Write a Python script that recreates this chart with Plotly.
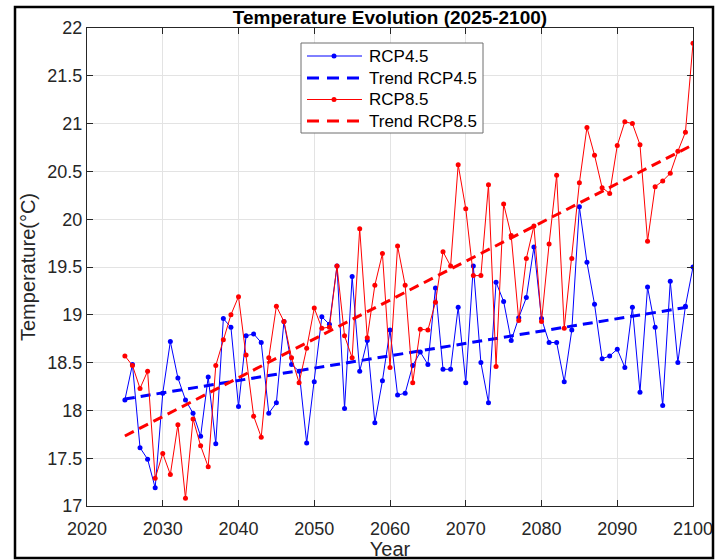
import numpy as np
import plotly.graph_objects as go

# Annual mean temperature (°C) under two emission scenarios
years = list(range(2025, 2101))

rcp45 = [
    18.11, 18.48, 17.61, 17.49, 17.19, 18.18, 18.72, 18.34, 18.11, 17.97,
    17.73, 18.35, 17.65, 18.96, 18.87, 18.04, 18.78, 18.80, 18.71, 17.97,
    18.08, 18.93, 18.48, 18.41, 17.66, 18.30, 18.98, 18.90, 19.51, 18.02,
    19.40, 18.41, 18.73, 17.87, 18.31, 18.84, 18.16, 18.18, 18.47, 18.61,
    18.48, 19.28, 18.43, 18.43, 19.08, 18.29, 19.51, 18.50, 18.08, 19.34,
    19.14, 18.73, 18.97, 19.18, 19.71, 18.96, 18.71, 18.71, 18.30, 18.84,
    20.13, 19.55, 19.11, 18.54, 18.57, 18.64, 18.45, 19.08, 18.19, 19.29,
    18.87, 18.05, 19.35, 18.50, 19.09, 19.50,
]

rcp85 = [
    18.57, 18.47, 18.23, 18.41, 17.29, 17.55, 17.33, 17.85, 17.08, 17.91,
    17.63, 17.41, 18.47, 18.74, 19.00, 19.19, 18.58, 17.94, 17.72, 18.55,
    19.09, 18.93, 18.55, 18.29, 18.65, 19.07, 18.86, 18.87, 19.51, 18.78,
    18.55, 19.90, 18.76, 19.31, 19.64, 18.45, 19.72, 19.31, 18.29, 18.85,
    18.84, 19.13, 19.66, 19.51, 20.57, 20.11, 19.41, 19.41, 20.36, 18.46,
    20.16, 19.83, 18.94, 19.59, 19.93, 18.93, 19.74, 20.46, 18.86, 19.59,
    20.38, 20.96, 20.67, 20.33, 20.27, 20.77, 21.02, 21.00, 20.78, 19.77,
    20.34, 20.40, 20.48, 20.71, 20.91, 21.84,
]

series_names = ["RCP4.5", "Trend RCP4.5", "RCP8.5", "Trend RCP8.5"]

x_ticks = [2020, 2030, 2040, 2050, 2060, 2070, 2080, 2090, 2100]
y_ticks = [17, 17.5, 18, 18.5, 19, 19.5, 20, 20.5, 21, 21.5, 22]
y_tick_text = ["17", "17.5", "18", "18.5", "19", "19.5", "20", "20.5", "21", "21.5", "22"]

yr = np.array(years, dtype=float)


def linear_trend(values):
    slope, intercept = np.polyfit(yr, np.array(values), 1)
    return slope * yr + intercept


FONT = "Liberation Sans, Arial, sans-serif"
TXT = "#262626"
BLUE = "#0000ff"
RED = "#ff0000"
DASH = "10px,6px"

# Plot-area geometry in pixels (used for the frame and the legend box)
W, H = 718, 560
L, R, T, B = 87, 25, 28, 54
PW, PH = W - L - R, H - T - B


def px_x(p):
    return (p - L) / PW


def px_y(p):
    return (H - B - p) / PH


fig = go.Figure()

fig.add_trace(go.Scatter(
    x=years, y=rcp45, mode="lines+markers", name=series_names[0],
    line=dict(color=BLUE, width=1), marker=dict(color=BLUE, size=5),
))
fig.add_trace(go.Scatter(
    x=years, y=linear_trend(rcp45), mode="lines", name=series_names[1],
    line=dict(color=BLUE, width=3, dash=DASH),
))
fig.add_trace(go.Scatter(
    x=years, y=rcp85, mode="lines+markers", name=series_names[2],
    line=dict(color=RED, width=1), marker=dict(color=RED, size=5),
))
fig.add_trace(go.Scatter(
    x=years, y=linear_trend(rcp85), mode="lines", name=series_names[3],
    line=dict(color=RED, width=3, dash=DASH),
))

axis_common = dict(
    showgrid=True, gridcolor="#e3e3e3", gridwidth=1,
    showline=True, linecolor=TXT, linewidth=1, mirror="ticks",
    ticks="inside", ticklen=6, tickcolor=TXT,
    tickfont=dict(family=FONT, size=18, color=TXT),
    zeroline=False, automargin=False,
)

fig.update_layout(
    width=W, height=H,
    margin=dict(l=L, r=R, t=T, b=B),
    paper_bgcolor="white", plot_bgcolor="white",
    showlegend=False,
    title=dict(
        text="<b>Temperature Evolution (2025-2100)</b>",
        x=0.5, xref="paper", xanchor="center",
        y=1 - 17 / H, yref="container", yanchor="middle",
        font=dict(family=FONT, size=19, color="black"),
    ),
    xaxis=dict(
        range=[2020, 2100], tickvals=x_ticks, ticklabelstandoff=6,
        title=dict(text="Year", font=dict(family=FONT, size=20, color=TXT), standoff=6),
        **axis_common,
    ),
    yaxis=dict(
        range=[17, 22], tickvals=y_ticks, ticktext=y_tick_text,
        title=dict(text="Temperature(°C)", font=dict(family=FONT, size=20, color=TXT), standoff=6),
        **axis_common,
    ),
)

# Legend box
fig.add_shape(
    type="rect", xref="paper", yref="paper",
    x0=px_x(301), x1=px_x(483), y0=px_y(133), y1=px_y(43),
    line=dict(color="#6e6e6e", width=1), fillcolor="white", layer="above",
)
legend_rows = [56, 78, 99.5, 121]
legend_styles = [
    (BLUE, 1, "solid", True),
    (BLUE, 3, "12px,8px", False),
    (RED, 1, "solid", True),
    (RED, 3, "12px,8px", False),
]
for name, row, (color, width, dash, has_marker) in zip(series_names, legend_rows, legend_styles):
    fig.add_shape(
        type="line", xref="paper", yref="paper",
        x0=px_x(307), x1=px_x(362), y0=px_y(row), y1=px_y(row),
        line=dict(color=color, width=width, dash=dash), layer="above",
    )
    if has_marker:
        fig.add_shape(
            type="circle", xref="paper", yref="paper",
            x0=px_x(331.5), x1=px_x(336.5), y0=px_y(row + 2.5), y1=px_y(row - 2.5),
            line=dict(color=color, width=0), fillcolor=color, layer="above",
        )
    fig.add_annotation(
        text=name, xref="paper", yref="paper",
        x=px_x(367), y=px_y(row), xanchor="left", yanchor="middle",
        showarrow=False, font=dict(family=FONT, size=17, color="black"),
    )

# Outer figure frame
fig.add_shape(
    type="rect", xref="paper", yref="paper",
    x0=px_x(15), x1=px_x(713), y0=px_y(558), y1=px_y(7),
    line=dict(color="black", width=2.5), fillcolor="rgba(0,0,0,0)",
    layer="above",
)

fig.write_html("out.html")
